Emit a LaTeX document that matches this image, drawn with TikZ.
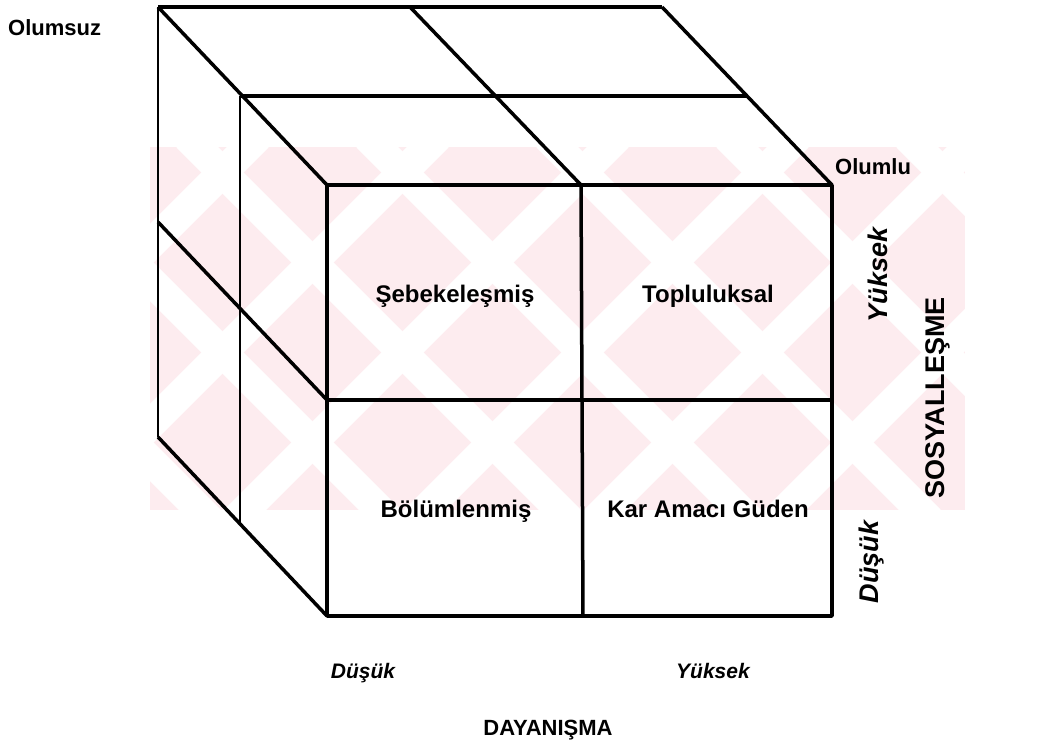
\documentclass[tikz,border=0pt]{standalone}
\usepackage{fontspec}
\setmainfont{Liberation Sans}
\usetikzlibrary{positioning}

\definecolor{wmpink}{RGB}{253,236,239}

\tikzset{
  edge/.style={line width=3.5pt, line join=round},
  backedge/.style={line width=2.4pt},
  cell/.style={font=\fontsize{24}{28}\selectfont\bfseries, inner sep=0pt, anchor=base},
  pole/.style={font=\fontsize{22}{26}\selectfont\bfseries, inner sep=0pt, anchor=base west},
  level/.style={font=\fontsize{21}{25}\selectfont\bfseries\itshape, inner sep=0pt, anchor=base},
  vlevel/.style={font=\fontsize{27}{30}\selectfont\bfseries\itshape, inner sep=0pt, anchor=base, rotate=90},
}

\begin{document}
\begin{tikzpicture}[x=1pt,y=-1pt]
  \useasboundingbox (0,0) rectangle (1054,751);

  % faint watermark band behind the cube
  \begin{scope}
    \clip (150,147) rectangle (965,510);
    \fill[wmpink] (150,147) rectangle (965,510);
    \foreach \c in {395,575,755,935,1115,1295}
      \draw[white, line width=30pt] (\c-520,520) -- (\c-137,137);
    \foreach \d in {-310,-130,50,230,410,590,770}
      \draw[white, line width=30pt] (\d+137,137) -- (\d+520,520);
  \end{scope}

  % corners of the cube
  \coordinate (btl) at (158,7);
  \coordinate (btm) at (410,7);
  \coordinate (btr) at (662,7);
  \coordinate (bml) at (158,222);
  \coordinate (bbl) at (158,437);
  \coordinate (mtl) at (240,96);
  \coordinate (mtr) at (747,96);
  \coordinate (mbl) at (240,524);
  \coordinate (ftl) at (327,185);
  \coordinate (ftm) at (581,185);
  \coordinate (ftr) at (832,185);
  \coordinate (fml) at (327,400);
  \coordinate (fmr) at (832,400);
  \coordinate (fbl) at (327,616);
  \coordinate (fbm) at (583,616);
  \coordinate (fbr) at (832,616);

  % top and left faces
  \draw[edge] (btl) -- (btr);
  \draw[edge] (mtl) -- (mtr);
  \draw[edge] (btl) -- (ftl);
  \draw[edge] (btm) -- (ftm);
  \draw[edge] (btr) -- (ftr);
  \draw[backedge] (btl) -- (bbl);
  \draw[backedge] (mtl) -- (mbl);
  \draw[edge] (bml) -- (fml);
  \draw[edge] (bbl) -- (fbl);

  % front face with its four cells
  \draw[edge] (ftl) rectangle (fbr);
  \draw[edge] (ftm) -- (fbm);
  \draw[edge] (fml) -- (fmr);

  \node[cell] (sebeke) at (455,302) {Şebekeleşmiş};
  \node[cell] (toplu) at (708,302) {Topluluksal};
  \node[cell] (bolum) at (456,517) {Bölümlenmiş};
  \node[cell] (kar) at (708,517) {Kar Amacı Güden};

  \node[pole] (olumsuz) at (8,36) {Olumsuz};
  \node[pole] (olumlu) at (835,175) {Olumlu};

  \node[vlevel] (syuksek) at (887,275) {Yüksek};
  \node[vlevel] (sdusuk) at (878,562) {Düşük};
  \node[font=\fontsize{27}{30}\selectfont\bfseries, inner sep=0pt, anchor=base, rotate=90]
    (sosyal) at (944,398) {SOSYALLEŞME};

  \node[level] (ddusuk) at (363,678) {Düşük};
  \node[level] (dyuksek) at (713,678) {Yüksek};
  \node[font=\fontsize{22}{26}\selectfont\bfseries, inner sep=0pt, anchor=base]
    (dayan) at (548,735) {DAYANIŞMA};
\end{tikzpicture}
\end{document}
